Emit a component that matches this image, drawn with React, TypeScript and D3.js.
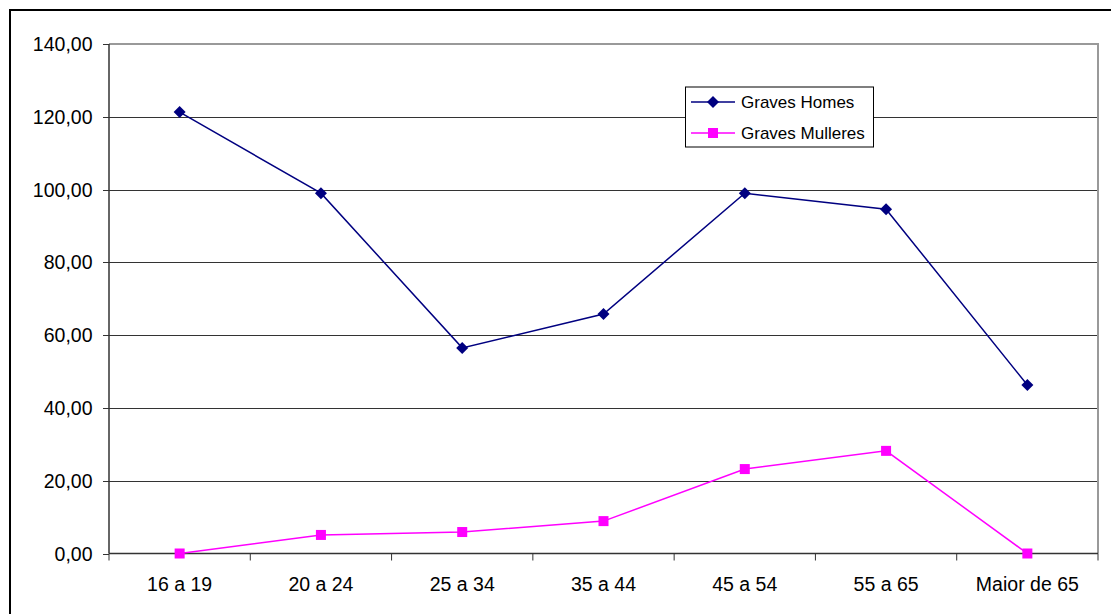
import React from "react";
import * as d3 from "d3";

const categories = ["16 a 19", "20 a 24", "25 a 34", "35 a 44", "45 a 54", "55 a 65", "Maior de 65"];
const homes = [121.3, 99.0, 56.5, 65.8, 99.0, 94.6, 46.3];
const mulleres = [0, 5.1, 5.9, 8.9, 23.2, 28.2, 0];
const yTicks = [0, 20, 40, 60, 80, 100, 120, 140];

const W = 1111, H = 614;
const left = 109, right = 1098, top = 44, bottom = 553.5;
const FONT = "'Liberation Sans', Arial, sans-serif";

export default function App() {
  const x = d3.scaleBand<string>().domain(categories).range([left, right]).padding(0);
  const y = d3.scaleLinear().domain([0, 140]).range([bottom, top]);
  const cx = (c: string) => (x(c) as number) + x.bandwidth() / 2;
  const line = d3.line<number>().x((_, i) => cx(categories[i])).y((d) => y(d));
  const fmt = (v: number) => v.toFixed(2).replace(".", ",");
  const diamond = (px: number, py: number, r: number) =>
    `M${px},${py - r}L${px + r},${py}L${px},${py + r}L${px - r},${py}Z`;

  return (
    <div style={{ position: "absolute", left: 0, top: 0 }}>
      <svg width={W} height={H} style={{ display: "block", background: "#fff" }}>
        <rect x={10} y={10} width={1120} height={700} fill="#fff" stroke="#000" strokeWidth={2} />
        {/* gridlines */}
        {yTicks.filter((t) => t > 0 && t < 140).map((t) => (
          <line key={t} x1={left} x2={right} y1={Math.round(y(t)) + 0.5} y2={Math.round(y(t)) + 0.5} stroke="#333" strokeWidth={1} />
        ))}
        {/* plot border top/right */}
        <path d={`M${left},${top}H${right}V${bottom}`} fill="none" stroke="#999" strokeWidth={2} />
        {/* y axis */}
        <line x1={left} x2={left} y1={top} y2={bottom} stroke="#333" strokeWidth={1.5} />
        {yTicks.map((t) => (
          <g key={t}>
            <line x1={left - 6} x2={left} y1={Math.round(y(t)) + 0.5} y2={Math.round(y(t)) + 0.5} stroke="#333" />
            <text x={92.5} y={y(t) + 7} textAnchor="end" fontFamily={FONT} fontSize={19.5} fill="#000">{fmt(t)}</text>
          </g>
        ))}
        {/* x axis */}
        <line x1={left} x2={right} y1={bottom} y2={bottom} stroke="#333" strokeWidth={1.5} />
        {categories.map((c, i) => (
          <g key={c}>
            <line x1={(x(c) as number) + x.bandwidth()} x2={(x(c) as number) + x.bandwidth()} y1={bottom} y2={bottom + 7} stroke="#333" />
            {i === 0 && <line x1={left} x2={left} y1={bottom} y2={bottom + 7} stroke="#333" />}
            <text x={cx(c)} y={591} textAnchor="middle" fontFamily={FONT} fontSize={19.5} fill="#000">{c}</text>
          </g>
        ))}
        {/* series */}
        <path d={line(homes) as string} fill="none" stroke="#000080" strokeWidth={1.5} />
        {homes.map((v, i) => (
          <path key={i} d={diamond(cx(categories[i]), y(v), 6)} fill="#000080" />
        ))}
        <path d={line(mulleres) as string} fill="none" stroke="#FF00FF" strokeWidth={1.5} />
        {mulleres.map((v, i) => (
          <rect key={i} x={cx(categories[i]) - 5} y={y(v) - 5} width={10} height={10} fill="#FF00FF" />
        ))}
        {/* legend */}
        <rect x={685.5} y={87} width={188} height={60} fill="#fff" stroke="#000" strokeWidth={1} />
        <line x1={691} x2={735} y1={102} y2={102} stroke="#000080" strokeWidth={1.5} />
        <path d={diamond(713, 102, 6)} fill="#000080" />
        <text x={741} y={108} fontFamily={FONT} fontSize={17} fill="#000">Graves Homes</text>
        <line x1={691} x2={735} y1={133} y2={133} stroke="#FF00FF" strokeWidth={1.5} />
        <rect x={708} y={128} width={10} height={10} fill="#FF00FF" />
        <text x={741} y={139} fontFamily={FONT} fontSize={17} fill="#000">Graves Mulleres</text>
      </svg>
    </div>
  );
}
